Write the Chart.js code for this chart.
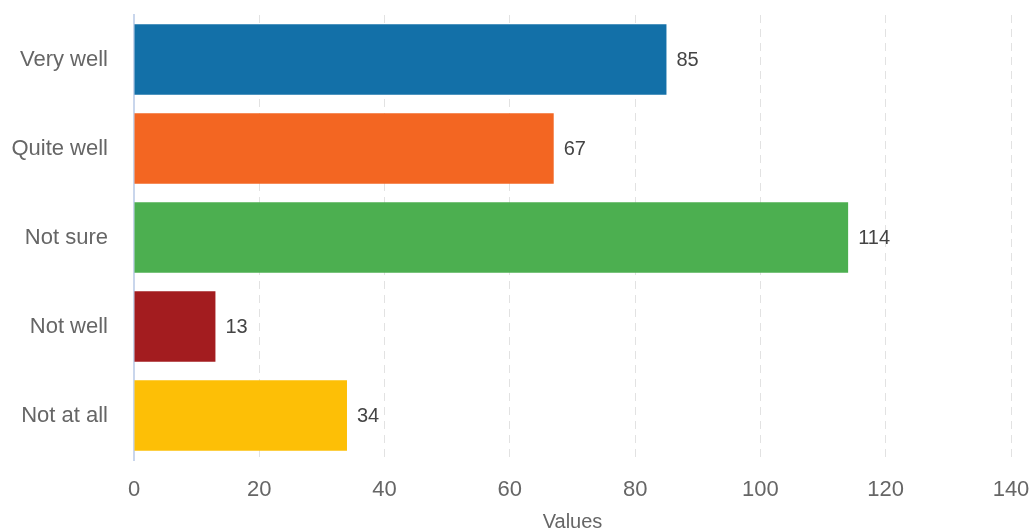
<!DOCTYPE html>
<html>
<head>
<meta charset="utf-8">
<script src="https://cdn.jsdelivr.net/npm/chart.js@4/dist/chart.umd.min.js"></script>
<style>
  html, body { margin: 0; padding: 0; background: #ffffff; }
  #wrap { width: 1031px; height: 532px; }
</style>
</head>
<body>
<div id="wrap"><canvas id="chart" width="1031" height="532"></canvas></div>
<script>
// Survey answers and their counts
const categories = ['Very well', 'Quite well', 'Not sure', 'Not well', 'Not at all'];
const counts = [85, 67, 114, 13, 34];
const barColors = ['#1370a8', '#f36622', '#4caf50', '#a31c1f', '#fdbf06'];
const xTicks = [0, 20, 40, 60, 80, 100, 120, 140];
const axisTitle = 'Values';

const FONT = '"Liberation Sans", Arial, sans-serif';

// Writes each bar's count just past its end
const valueLabels = {
  id: 'valueLabels',
  afterDatasetsDraw(chart) {
    const ctx = chart.ctx;
    const meta = chart.getDatasetMeta(0);
    ctx.save();
    ctx.font = '20px ' + FONT;
    ctx.fillStyle = '#444444';
    ctx.textAlign = 'left';
    ctx.textBaseline = 'middle';
    meta.data.forEach((bar, i) => {
      ctx.fillText(String(counts[i]), bar.x + 10, bar.y + 1);
    });
    ctx.restore();
  }
};

new Chart(document.getElementById('chart'), {
  type: 'bar',
  data: {
    labels: categories,
    datasets: [{
      data: counts,
      backgroundColor: barColors,
      borderWidth: 0,
      barPercentage: 0.79,
      categoryPercentage: 1.0
    }]
  },
  options: {
    indexAxis: 'y',
    responsive: false,
    animation: false,
    layout: { padding: { top: 15, right: 20, bottom: 0, left: 0 } },
    plugins: {
      legend: { display: false },
      tooltip: { enabled: false }
    },
    scales: {
      x: {
        min: 0,
        max: 140,
        afterBuildTicks(scale) {
          scale.ticks = xTicks.map(v => ({ value: v }));
        },
        afterFit(scale) {
          scale.height = 72;
          scale.paddingLeft = 0;
          scale.paddingRight = 0;
        },
        grid: {
          color: '#e2e2e2',
          lineWidth: 1,
          drawTicks: false
        },
        border: { display: false, dash: [8, 6] },
        ticks: {
          color: '#666666',
          font: { family: FONT, size: 22 },
          padding: 17
        },
        title: {
          display: true,
          text: axisTitle,
          color: '#666666',
          font: { family: FONT, size: 20 },
          padding: { top: 7, bottom: -2 }
        }
      },
      y: {
        afterFit(scale) {
          scale.width = 134;
          scale.paddingTop = 0;
          scale.paddingBottom = 0;
        },
        grid: { display: false, drawTicks: false },
        border: { display: true, color: '#c9d6ec', width: 2 },
        ticks: {
          color: '#666666',
          font: { family: FONT, size: 22 },
          padding: 26
        }
      }
    }
  },
  plugins: [valueLabels]
});
</script>
</body>
</html>
